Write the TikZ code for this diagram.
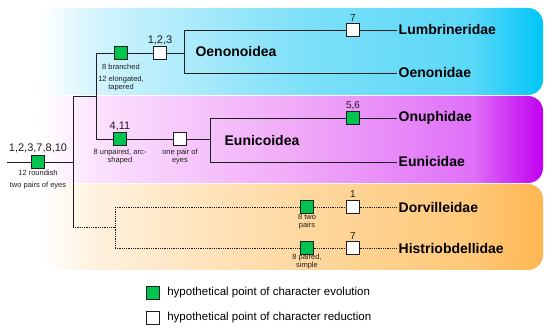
\documentclass[tikz,border=0pt]{standalone}
\usepackage{fontspec}
\setmainfont{Liberation Sans}
\usetikzlibrary{positioning}
\definecolor{EV}{RGB}{0,196,80}
\definecolor{DG}{RGB}{30,30,30}
\definecolor{BL1}{RGB}{208,243,253}
\definecolor{BL2}{RGB}{126,224,248}
\definecolor{BL3}{RGB}{90,216,248}
\definecolor{BL4}{RGB}{0,198,248}
\definecolor{PK1}{RGB}{251,224,253}
\definecolor{PK2}{RGB}{240,168,248}
\definecolor{PK3}{RGB}{224,112,248}
\definecolor{PK4}{RGB}{192,0,240}
\definecolor{OR1}{RGB}{255,240,220}
\definecolor{OR2}{RGB}{255,216,160}
\definecolor{OR3}{RGB}{255,200,120}
\definecolor{OR4}{RGB}{255,182,80}
\pgfdeclarehorizontalshading{blueband}{100bp}{color(0bp)=(white); color(25bp)=(white);
  color(31bp)=(BL1); color(51bp)=(BL2); color(68bp)=(BL3); color(75bp)=(BL4); color(100bp)=(BL4)}
\pgfdeclarehorizontalshading{pinkband}{100bp}{color(0bp)=(white); color(25bp)=(white);
  color(31bp)=(PK1); color(51bp)=(PK2); color(68bp)=(PK3); color(75bp)=(PK4); color(100bp)=(PK4)}
\pgfdeclarehorizontalshading{orangeband}{100bp}{color(0bp)=(white); color(25bp)=(white);
  color(31bp)=(OR1); color(51bp)=(OR2); color(68bp)=(OR3); color(75bp)=(OR4); color(100bp)=(OR4)}

\tikzset{
  evobox/.style={rectangle, draw=DG, fill=EV, line width=0.8pt, minimum size=12.5pt, inner sep=0pt},
  redbox/.style={evobox, fill=white},
  taxon/.style={anchor=west, inner sep=1.5pt, font=\fontsize{14}{16}\selectfont\bfseries, text=black},
  clade/.style={font=\fontsize{14}{16}\selectfont\bfseries, text=black},
  charnum/.style={font=\fontsize{11}{13}\selectfont, text=DG, inner sep=0pt},
  charnote/.style={anchor=north, align=center, inner sep=0pt,
    font=\fontsize{7.5}{8}\selectfont, text=DG},
  tree/.style={DG, line width=0.8pt},
  treedot/.style={tree, densely dotted}
}

\begin{document}
\begin{tikzpicture}[x=1pt,y=-1pt]
\useasboundingbox (0,0) rectangle (550,328);

\shade[shading=blueband, rounded corners=15pt] (40,8) rectangle (543,95);
\shade[shading=pinkband, rounded corners=15pt] (40,96) rectangle (543,183);
\shade[shading=orangeband, rounded corners=15pt] (40,184) rectangle (543,270);

\coordinate (root) at (7,162);
\coordinate (j0) at (73,162);
\coordinate (j0t) at (73,96);
\coordinate (j0b) at (73,227);
\coordinate (j1) at (96,96);
\coordinate (j1t) at (96,53);
\coordinate (j1b) at (96,139);
\coordinate (k1) at (184,53);
\coordinate (k1t) at (184,30);
\coordinate (k1b) at (184,73);
\coordinate (k2) at (210,139);
\coordinate (k2t) at (210,118);
\coordinate (k2b) at (210,162);
\coordinate (k3) at (115,227);
\coordinate (k3t) at (115,207);
\coordinate (k3b) at (115,248);

\node[taxon] (lumb) at (397,30) {Lumbrineridae};
\node[taxon] (oeno) at (397,73) {Oenonidae};
\node[taxon] (onup) at (397,118) {Onuphidae};
\node[taxon] (euni) at (397,162) {Eunicidae};
\node[taxon] (dorv) at (397,207) {Dorvilleidae};
\node[taxon] (hist) at (397,248) {Histriobdellidae};

\node[clade] (oenoidea) at (236,52) {Oenonoidea};
\node[clade] (eunoidea) at (262,141) {Eunicoidea};

\node[evobox] (e0) at (38,162) {};
\node[evobox] (e1) at (121,53) {};
\node[redbox] (r1) at (160,53) {};
\node[redbox] (r2) at (353,30) {};
\node[evobox] (e2) at (120,139) {};
\node[redbox] (r3) at (180,139) {};
\node[evobox] (e3) at (353,118) {};
\node[evobox] (e4) at (307,207) {};
\node[redbox] (r4) at (353,207) {};
\node[evobox] (e5) at (307,248) {};
\node[redbox] (r5) at (353,248) {};

\draw[tree] (root) -- (e0) -- (j0);
\draw[tree] (j0t) -- (j0b);
\draw[tree] (j0t) -- (j1);
\draw[tree] (j1t) -- (j1b);
\draw[tree] (j1t) -- (e1) -- (r1) -- (k1);
\draw[tree] (k1t) -- (k1b);
\draw[tree] (k1t) -- (r2) -- (lumb);
\draw[tree] (k1b) -- (oeno);
\draw[tree] (j1b) -- (e2) -- (r3) -- (k2);
\draw[tree] (k2t) -- (k2b);
\draw[tree] (k2t) -- (e3) -- (onup);
\draw[tree] (k2b) -- (euni);
\draw[treedot] (j0b) -- (k3);
\draw[treedot] (k3t) -- (k3b);
\draw[treedot] (k3t) -- (e4) -- (r4) -- (dorv);
\draw[treedot] (k3b) -- (e5) -- (r5) -- (hist);

\node[charnum] at (38,148) {1,2,3,7,8,10};
\node[charnote] at (38,170) {12 roundish\\[4pt]two pairs of eyes};
\node[charnum] at (160,40) {1,2,3};
\node[charnote] at (121,64) {8 branched\\[4pt]12 elongated,\\tapered};
\node[charnum, font=\fontsize{10}{12}\selectfont] at (353,18) {7};
\node[charnum] at (120,126) {4,11};
\node[charnote] at (120,149) {8 unpaired, arc-\\shaped};
\node[charnote] at (180,149) {one pair of\\eyes};
\node[charnum, font=\fontsize{10}{12}\selectfont] at (353,106) {5,6};
\node[charnum, font=\fontsize{10}{12}\selectfont] at (353,194) {1};
\node[charnote] at (307,214) {8 two\\pairs};
\node[charnum, font=\fontsize{10}{12}\selectfont] at (353,236) {7};
\node[charnote] at (307,254) {8 paired,\\simple};

\node[evobox, minimum size=13.5pt] (lgevo) at (153,293) {};
\node[redbox, minimum size=13.5pt] (lgred) at (153,318) {};
\node[right=7pt of lgevo, inner sep=0pt, font=\fontsize{11.5}{13}\selectfont] (lgevotext)
  {hypothetical point of character evolution};
\node[right=7pt of lgred, inner sep=0pt, font=\fontsize{11.5}{13}\selectfont] (lgredtext)
  {hypothetical point of character reduction};
\end{tikzpicture}
\end{document}
